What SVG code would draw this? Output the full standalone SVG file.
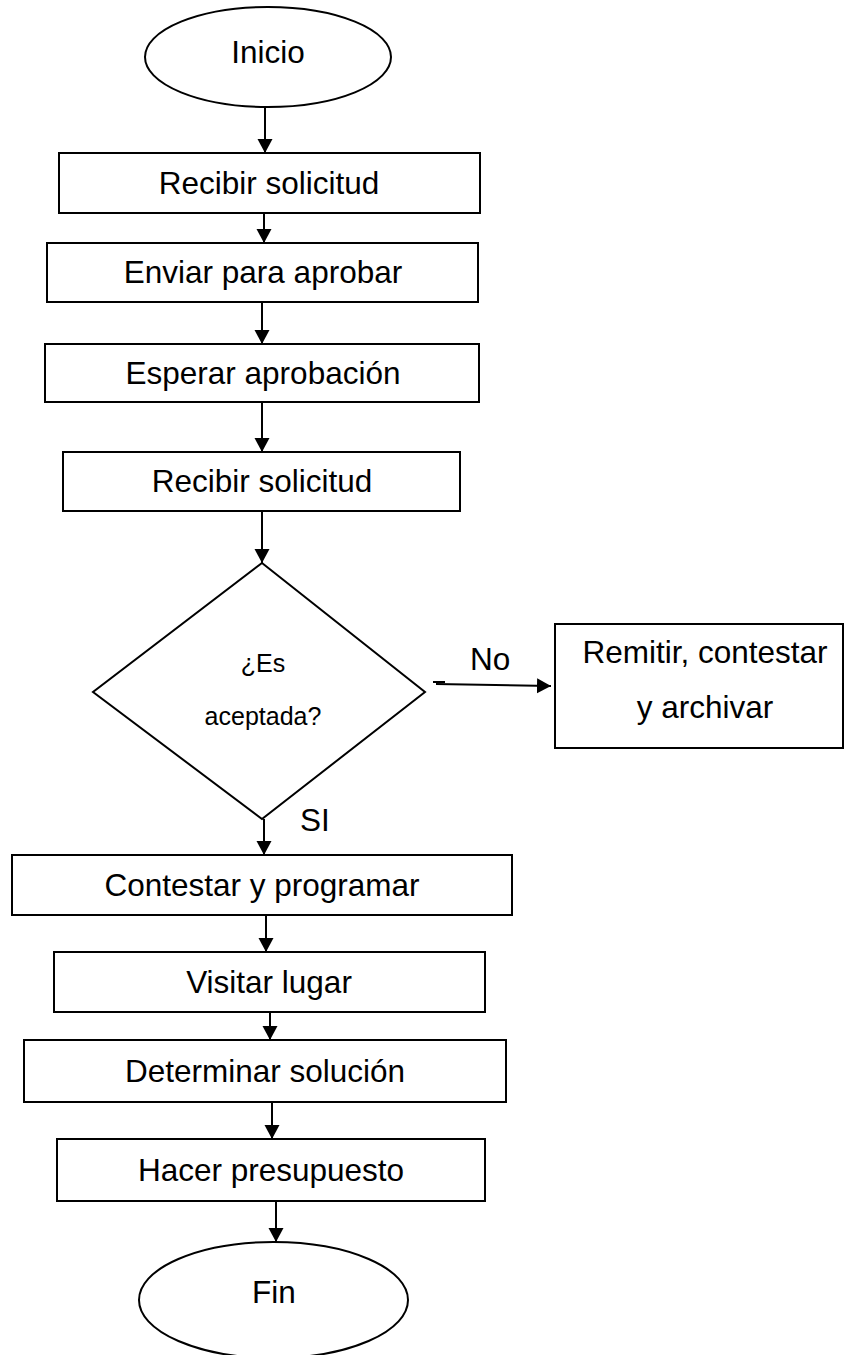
<svg xmlns="http://www.w3.org/2000/svg" width="844" height="1355" viewBox="0 0 844 1355">
  <defs>
    <style>
      .shape { fill: #ffffff; stroke: #000000; stroke-width: 2; }
      .conn { fill: none; stroke: #000000; stroke-width: 2; }
      .lbl { font-family: "Liberation Sans", Arial, sans-serif; font-size: 31.5px; fill: #000000; text-anchor: middle; }
      .small { font-size: 25px; }
      .edge { text-anchor: start; }
    </style>
    <marker id="arrow" markerUnits="userSpaceOnUse" markerWidth="16" markerHeight="16" refX="14" refY="8" orient="auto">
      <path d="M0,0.5 L14,8 L0,15.5 z" fill="#000000"/>
    </marker>
  </defs>
  <rect width="844" height="1355" fill="#ffffff"/>

  <g id="connectors">
    <line class="conn" x1="265" y1="107" x2="265" y2="153" marker-end="url(#arrow)"/>
    <line class="conn" x1="264" y1="213" x2="264" y2="243" marker-end="url(#arrow)"/>
    <line class="conn" x1="262" y1="302" x2="262" y2="344" marker-end="url(#arrow)"/>
    <line class="conn" x1="262" y1="402" x2="262" y2="452" marker-end="url(#arrow)"/>
    <line class="conn" x1="262" y1="511" x2="262" y2="563" marker-end="url(#arrow)"/>
    <line class="conn" x1="264" y1="819" x2="264" y2="855" marker-end="url(#arrow)"/>
    <line class="conn" x1="433" y1="682" x2="445" y2="682"/>
    <line class="conn" x1="436" y1="684" x2="551" y2="686" marker-end="url(#arrow)"/>
    <line class="conn" x1="266" y1="915" x2="266" y2="952" marker-end="url(#arrow)"/>
    <line class="conn" x1="270" y1="1012" x2="270" y2="1040" marker-end="url(#arrow)"/>
    <line class="conn" x1="272" y1="1102" x2="272" y2="1139" marker-end="url(#arrow)"/>
    <line class="conn" x1="276" y1="1201" x2="276" y2="1242" marker-end="url(#arrow)"/>
    <text class="lbl edge" x="470" y="670">No</text>
    <text class="lbl edge" x="300" y="831">SI</text>
  </g>

  <g id="inicio">
    <ellipse class="shape" cx="268" cy="57" rx="123" ry="50"/>
    <text class="lbl" x="268" y="63">Inicio</text>
  </g>
  <g id="recibir1">
    <rect class="shape" x="59" y="153" width="421" height="60"/>
    <text class="lbl" x="269" y="194">Recibir solicitud</text>
  </g>
  <g id="enviar">
    <rect class="shape" x="47" y="243" width="431" height="59"/>
    <text class="lbl" x="263" y="283">Enviar para aprobar</text>
  </g>
  <g id="esperar">
    <rect class="shape" x="45" y="344" width="434" height="58"/>
    <text class="lbl" x="263" y="384">Esperar aprobación</text>
  </g>
  <g id="recibir2">
    <rect class="shape" x="63" y="452" width="397" height="59"/>
    <text class="lbl" x="262" y="492">Recibir solicitud</text>
  </g>
  <g id="decision">
    <polygon class="shape" points="262,563 425,692 262,819 93,692"/>
    <text class="lbl small" x="263" y="672">¿Es</text>
    <text class="lbl small" x="263" y="725">aceptada?</text>
  </g>
  <g id="remitir">
    <rect class="shape" x="555" y="624" width="288" height="124"/>
    <text class="lbl" x="705" y="663">Remitir, contestar</text>
    <text class="lbl" x="705" y="718">y archivar</text>
  </g>
  <g id="contestar">
    <rect class="shape" x="12" y="855" width="500" height="60"/>
    <text class="lbl" x="262" y="896">Contestar y programar</text>
  </g>
  <g id="visitar">
    <rect class="shape" x="54" y="952" width="431" height="60"/>
    <text class="lbl" x="269" y="993">Visitar lugar</text>
  </g>
  <g id="determinar">
    <rect class="shape" x="24" y="1040" width="482" height="62"/>
    <text class="lbl" x="265" y="1082">Determinar solución</text>
  </g>
  <g id="hacer">
    <rect class="shape" x="57" y="1139" width="428" height="62"/>
    <text class="lbl" x="271" y="1181">Hacer presupuesto</text>
  </g>
  <g id="fin">
    <ellipse class="shape" cx="273.5" cy="1300" rx="134.5" ry="58"/>
    <text class="lbl" x="274" y="1303">Fin</text>
  </g>
</svg>
